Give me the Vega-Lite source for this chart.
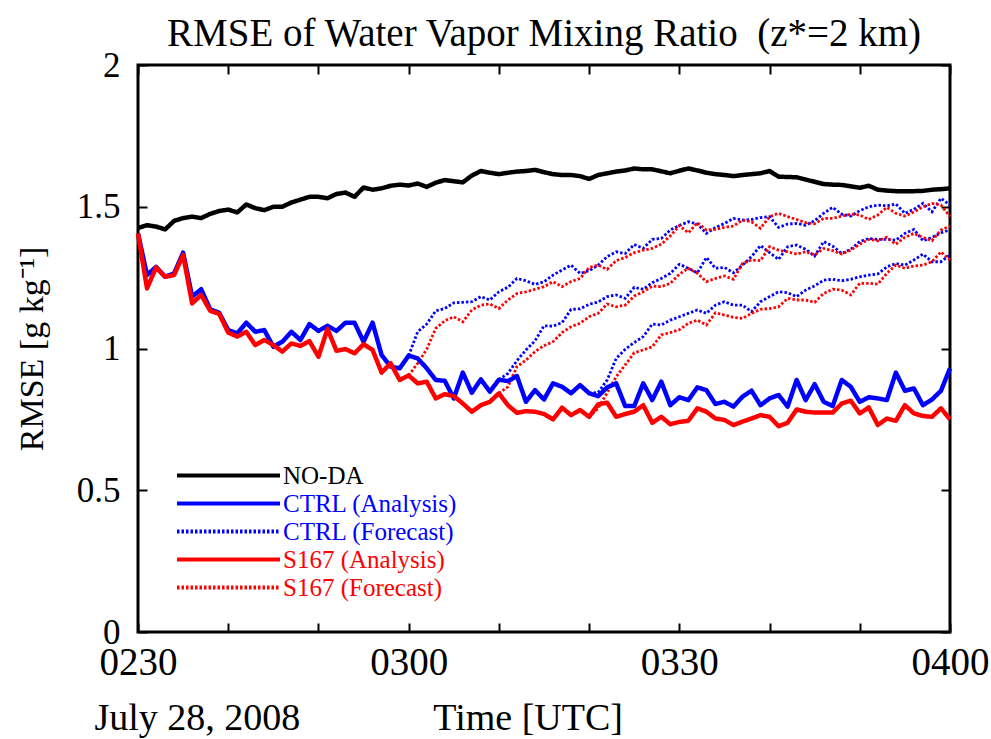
{
"$schema": "https://vega.github.io/schema/vega-lite/v6.json",
"width": 812, "height": 567,
"autosize": {"type": "none"},
"padding": {"left": 138, "top": 65, "right": 41, "bottom": 107},
"background": "white",
"title": {"text": "RMSE of Water Vapor Mixing Ratio\u00a0\u00a0(z*=2 km)", "font": "Liberation Serif", "fontSize": 39, "fontWeight": "normal", "color": "black", "offset": -6, "anchor": "middle"},
"config": {"view": {"stroke": "black", "strokeWidth": 3}, "font": "Liberation Serif"},
"resolve": {"axis": {"x": "independent", "y": "independent"}},
"data": {"values": [
{"t":0,"n":1.425,"ca":1.406,"sa":1.406},
{"t":1,"n":1.435,"ca":1.259,"sa":1.212},
{"t":2,"n":1.43,"ca":1.288,"sa":1.286},
{"t":3,"n":1.42,"ca":1.253,"sa":1.253},
{"t":4,"n":1.45,"ca":1.265,"sa":1.259},
{"t":5,"n":1.46,"ca":1.338,"sa":1.33},
{"t":6,"n":1.465,"ca":1.183,"sa":1.159},
{"t":7,"n":1.46,"ca":1.209,"sa":1.189},
{"t":8,"n":1.475,"ca":1.138,"sa":1.133},
{"t":9,"n":1.485,"ca":1.126,"sa":1.122},
{"t":10,"n":1.49,"ca":1.065,"sa":1.056},
{"t":11,"n":1.48,"ca":1.053,"sa":1.042},
{"t":12,"n":1.508,"ca":1.091,"sa":1.059},
{"t":13,"n":1.495,"ca":1.059,"sa":1.012},
{"t":14,"n":1.488,"ca":1.065,"sa":1.03},
{"t":15,"n":1.5,"ca":1.006,"sa":1.012},
{"t":16,"n":1.5,"ca":1.024,"sa":0.989},
{"t":17,"n":1.515,"ca":1.059,"sa":1.018},
{"t":18,"n":1.525,"ca":1.03,"sa":1.009},
{"t":19,"n":1.535,"ca":1.086,"sa":1.026},
{"t":20,"n":1.535,"ca":1.062,"sa":0.971},
{"t":21,"n":1.53,"ca":1.08,"sa":1.069},
{"t":22,"n":1.545,"ca":1.062,"sa":0.992},
{"t":23,"n":1.55,"ca":1.091,"sa":0.998},
{"t":24,"n":1.535,"ca":1.091,"sa":0.983},
{"t":25,"n":1.568,"ca":1.024,"sa":1.015},
{"t":26,"n":1.56,"ca":1.091,"sa":0.995},
{"t":27,"n":1.565,"ca":0.977,"sa":0.915},
{"t":28,"n":1.574,"ca":0.936,"sa":0.948},
{"t":29,"n":1.578,"ca":0.93,"sa":0.889},
{"t":30,"n":1.575,"ca":0.975,"sa":0.905,"cf1":0.975,"sf1":0.905},
{"t":31,"n":1.582,"ca":0.965,"sa":0.877,"cf1":1.059,"sf1":0.948},
{"t":32,"n":1.57,"ca":0.93,"sa":0.883,"cf1":1.086,"sf1":0.997},
{"t":33,"n":1.585,"ca":0.889,"sa":0.824,"cf1":1.133,"sf1":1.071},
{"t":34,"n":1.594,"ca":0.886,"sa":0.839,"cf1":1.141,"sf1":1.098},
{"t":35,"n":1.59,"ca":0.824,"sa":0.832,"cf1":1.161,"sf1":1.112},
{"t":36,"n":1.586,"ca":0.915,"sa":0.806,"cf1":1.163,"sf1":1.094},
{"t":37,"n":1.61,"ca":0.844,"sa":0.777,"cf1":1.165,"sf1":1.136},
{"t":38,"n":1.626,"ca":0.891,"sa":0.8,"cf1":1.183,"sf1":1.153},
{"t":39,"n":1.62,"ca":0.848,"sa":0.812,"cf1":1.171,"sf1":1.157},
{"t":40,"n":1.615,"ca":0.89,"sa":0.842,"cf1":1.2,"sf1":1.141,"cf2":0.89,"sf2":0.842},
{"t":41,"n":1.62,"ca":0.885,"sa":0.8,"cf1":1.216,"sf1":1.171,"cf2":0.912,"sf2":0.865},
{"t":42,"n":1.624,"ca":0.903,"sa":0.773,"cf1":1.247,"sf1":1.194,"cf2":0.957,"sf2":0.936},
{"t":43,"n":1.626,"ca":0.812,"sa":0.779,"cf1":1.239,"sf1":1.2,"cf2":0.995,"sf2":0.959},
{"t":44,"n":1.63,"ca":0.853,"sa":0.777,"cf1":1.226,"sf1":1.209,"cf2":1.027,"sf2":0.989},
{"t":45,"n":1.622,"ca":0.82,"sa":0.769,"cf1":1.235,"sf1":1.218,"cf2":1.08,"sf2":1.01},
{"t":46,"n":1.615,"ca":0.877,"sa":0.75,"cf1":1.259,"sf1":1.236,"cf2":1.079,"sf2":1.024},
{"t":47,"n":1.612,"ca":0.865,"sa":0.791,"cf1":1.277,"sf1":1.218,"cf2":1.091,"sf2":1.056},
{"t":48,"n":1.612,"ca":0.842,"sa":0.765,"cf1":1.294,"sf1":1.236,"cf2":1.138,"sf2":1.077},
{"t":49,"n":1.608,"ca":0.871,"sa":0.783,"cf1":1.265,"sf1":1.247,"cf2":1.14,"sf2":1.089},
{"t":50,"n":1.598,"ca":0.842,"sa":0.759,"cf1":1.274,"sf1":1.286,"cf2":1.156,"sf2":1.112,"cf3":0.842,"sf3":0.759},
{"t":51,"n":1.612,"ca":0.832,"sa":0.803,"cf1":1.294,"sf1":1.294,"cf2":1.164,"sf2":1.124,"cf3":0.845,"sf3":0.789},
{"t":52,"n":1.618,"ca":0.863,"sa":0.809,"cf1":1.324,"sf1":1.279,"cf2":1.183,"sf2":1.157,"cf3":0.889,"sf3":0.844},
{"t":53,"n":1.624,"ca":0.877,"sa":0.759,"cf1":1.341,"sf1":1.31,"cf2":1.189,"sf2":1.147,"cf3":0.965,"sf3":0.9},
{"t":54,"n":1.628,"ca":0.797,"sa":0.769,"cf1":1.335,"sf1":1.321,"cf2":1.177,"sf2":1.153,"cf3":0.997,"sf3":0.942},
{"t":55,"n":1.635,"ca":0.797,"sa":0.777,"cf1":1.367,"sf1":1.338,"cf2":1.216,"sf2":1.185,"cf3":1.021,"sf3":0.985},
{"t":56,"n":1.632,"ca":0.877,"sa":0.8,"cf1":1.353,"sf1":1.347,"cf2":1.209,"sf2":1.2,"cf3":1.042,"sf3":0.995},
{"t":57,"n":1.632,"ca":0.818,"sa":0.738,"cf1":1.385,"sf1":1.353,"cf2":1.232,"sf2":1.22,"cf3":1.086,"sf3":1.006},
{"t":58,"n":1.625,"ca":0.883,"sa":0.759,"cf1":1.388,"sf1":1.368,"cf2":1.247,"sf2":1.218,"cf3":1.083,"sf3":1.048},
{"t":59,"n":1.618,"ca":0.8,"sa":0.733,"cf1":1.418,"sf1":1.397,"cf2":1.265,"sf2":1.23,"cf3":1.1,"sf3":1.056},
{"t":60,"n":1.627,"ca":0.828,"sa":0.741,"cf1":1.434,"sf1":1.433,"cf2":1.297,"sf2":1.262,"cf3":1.112,"sf3":1.066},
{"t":61,"n":1.635,"ca":0.818,"sa":0.745,"cf1":1.447,"sf1":1.408,"cf2":1.283,"sf2":1.283,"cf3":1.124,"sf3":1.089},
{"t":62,"n":1.628,"ca":0.863,"sa":0.789,"cf1":1.439,"sf1":1.444,"cf2":1.267,"sf2":1.265,"cf3":1.136,"sf3":1.1},
{"t":63,"n":1.62,"ca":0.853,"sa":0.777,"cf1":1.406,"sf1":1.418,"cf2":1.321,"sf2":1.236,"cf3":1.124,"sf3":1.083},
{"t":64,"n":1.615,"ca":0.804,"sa":0.753,"cf1":1.427,"sf1":1.42,"cf2":1.283,"sf2":1.247,"cf3":1.153,"sf3":1.126},
{"t":65,"n":1.612,"ca":0.812,"sa":0.748,"cf1":1.441,"sf1":1.427,"cf2":1.286,"sf2":1.256,"cf3":1.165,"sf3":1.118},
{"t":66,"n":1.608,"ca":0.795,"sa":0.73,"cf1":1.459,"sf1":1.432,"cf2":1.267,"sf2":1.244,"cf3":1.153,"sf3":1.11},
{"t":67,"n":1.612,"ca":0.83,"sa":0.742,"cf1":1.453,"sf1":1.453,"cf2":1.294,"sf2":1.3,"cf3":1.153,"sf3":1.106},
{"t":68,"n":1.615,"ca":0.851,"sa":0.753,"cf1":1.455,"sf1":1.447,"cf2":1.324,"sf2":1.312,"cf3":1.13,"sf3":1.124},
{"t":69,"n":1.618,"ca":0.8,"sa":0.765,"cf1":1.462,"sf1":1.424,"cf2":1.363,"sf2":1.31,"cf3":1.165,"sf3":1.138},
{"t":70,"n":1.626,"ca":0.824,"sa":0.759,"cf1":1.465,"sf1":1.465,"cf2":1.338,"sf2":1.359,"cf3":1.183,"sf3":1.141},
{"t":71,"n":1.606,"ca":0.836,"sa":0.726,"cf1":1.427,"sf1":1.477,"cf2":1.314,"sf2":1.347,"cf3":1.2,"sf3":1.147},
{"t":72,"n":1.605,"ca":0.795,"sa":0.738,"cf1":1.439,"sf1":1.465,"cf2":1.359,"sf2":1.341,"cf3":1.197,"sf3":1.177},
{"t":73,"n":1.604,"ca":0.889,"sa":0.785,"cf1":1.441,"sf1":1.455,"cf2":1.365,"sf2":1.333,"cf3":1.183,"sf3":1.171},
{"t":74,"n":1.596,"ca":0.818,"sa":0.777,"cf1":1.435,"sf1":1.444,"cf2":1.35,"sf2":1.341,"cf3":1.206,"sf3":1.171},
{"t":75,"n":1.588,"ca":0.874,"sa":0.774,"cf1":1.451,"sf1":1.44,"cf2":1.326,"sf2":1.33,"cf3":1.221,"sf3":1.163},
{"t":76,"n":1.58,"ca":0.812,"sa":0.774,"cf1":1.477,"sf1":1.459,"cf2":1.377,"sf2":1.353,"cf3":1.241,"sf3":1.194},
{"t":77,"n":1.578,"ca":0.797,"sa":0.774,"cf1":1.498,"sf1":1.459,"cf2":1.361,"sf2":1.345,"cf3":1.244,"sf3":1.209},
{"t":78,"n":1.577,"ca":0.889,"sa":0.806,"cf1":1.474,"sf1":1.467,"cf2":1.335,"sf2":1.333,"cf3":1.239,"sf3":1.206},
{"t":79,"n":1.572,"ca":0.865,"sa":0.816,"cf1":1.467,"sf1":1.474,"cf2":1.35,"sf2":1.347,"cf3":1.244,"sf3":1.189},
{"t":80,"n":1.567,"ca":0.812,"sa":0.771,"cf1":1.486,"sf1":1.471,"cf2":1.377,"sf2":1.368,"cf3":1.253,"sf3":1.23},
{"t":81,"n":1.574,"ca":0.828,"sa":0.792,"cf1":1.5,"sf1":1.455,"cf2":1.388,"sf2":1.385,"cf3":1.259,"sf3":1.23},
{"t":82,"n":1.56,"ca":0.824,"sa":0.73,"cf1":1.506,"sf1":1.471,"cf2":1.385,"sf2":1.38,"cf3":1.263,"sf3":1.227},
{"t":83,"n":1.557,"ca":0.818,"sa":0.753,"cf1":1.503,"sf1":1.498,"cf2":1.385,"sf2":1.392,"cf3":1.288,"sf3":1.265},
{"t":84,"n":1.555,"ca":0.915,"sa":0.745,"cf1":1.51,"sf1":1.477,"cf2":1.382,"sf2":1.368,"cf3":1.3,"sf3":1.294},
{"t":85,"n":1.555,"ca":0.851,"sa":0.8,"cf1":1.477,"sf1":1.467,"cf2":1.406,"sf2":1.392,"cf3":1.294,"sf3":1.283},
{"t":86,"n":1.555,"ca":0.859,"sa":0.771,"cf1":1.491,"sf1":1.482,"cf2":1.42,"sf2":1.406,"cf3":1.312,"sf3":1.291},
{"t":87,"n":1.556,"ca":0.8,"sa":0.762,"cf1":1.512,"sf1":1.5,"cf2":1.38,"sf2":1.392,"cf3":1.333,"sf3":1.294},
{"t":88,"n":1.56,"ca":0.82,"sa":0.759,"cf1":1.482,"sf1":1.512,"cf2":1.392,"sf2":1.38,"cf3":1.306,"sf3":1.306},
{"t":89,"n":1.562,"ca":0.851,"sa":0.789,"cf1":1.53,"sf1":1.506,"cf2":1.408,"sf2":1.418,"cf3":1.306,"sf3":1.341},
{"t":90,"n":1.565,"ca":0.93,"sa":0.75,"cf1":1.506,"sf1":1.465,"cf2":1.418,"sf2":1.432,"cf3":1.33,"sf3":1.312}
]},
"layer": [
{"mark": {"type": "line", "strokeWidth": 4.5, "strokeJoin": "round", "strokeCap": "butt"},
 "encoding": {
  "x": {"field": "t", "type": "quantitative", "scale": {"domain": [0, 90], "nice": false}, "axis": {"orient": "top", "values": [0,10,20,30,40,50,60,70,80,90], "labels": false, "domain": false, "grid": false, "title": null, "tickSize": -9, "tickWidth": 2, "tickColor": "black"}},
  "y": {"field": "n", "type": "quantitative", "scale": {"domain": [0, 2], "nice": false}, "axis": {"orient": "right", "values": [0,0.5,1,1.5,2], "labels": false, "domain": false, "grid": false, "title": null, "tickSize": -9, "tickWidth": 2, "tickColor": "black"}},
  "color": {"datum": "NO-DA", "type": "nominal",
   "scale": {"domain": ["NO-DA", "CTRL (Analysis)", "CTRL (Forecast)", "S167 (Analysis)", "S167 (Forecast)"], "range": ["#000000", "#0000ff", "#0000ff", "#ff0000", "#ff0000"]},
   "legend": {"orient": "none", "legendX": 37, "legendY": 398, "title": null, "symbolType": "stroke", "symbolSize": 10609, "symbolStrokeWidth": 4, "labelFont": "Liberation Serif", "labelFontSize": 25, "labelOffset": 1, "rowPadding": 2, "clipHeight": 25, "padding": 0, "labelLimit": 400,
    "encode": {"labels": {"update": {"fill": {"signal": "indexof(datum.value, 'CTRL') >= 0 ? '#0000ff' : (indexof(datum.value, 'S167') >= 0 ? '#ff0000' : '#000000')"}}}}}},
  "strokeDash": {"datum": "NO-DA", "type": "nominal",
   "scale": {"domain": ["NO-DA", "CTRL (Analysis)", "CTRL (Forecast)", "S167 (Analysis)", "S167 (Forecast)"], "range": [[1,0], [1,0], [2.5,2], [1,0], [2.5,2]]},
   "legend": {"orient": "none", "legendX": 37, "legendY": 398, "title": null, "symbolType": "stroke", "symbolSize": 10609, "symbolStrokeWidth": 4, "labelFont": "Liberation Serif", "labelFontSize": 25, "labelOffset": 1, "rowPadding": 2, "clipHeight": 25, "padding": 0, "labelLimit": 400,
    "encode": {"labels": {"update": {"fill": {"signal": "indexof(datum.value, 'CTRL') >= 0 ? '#0000ff' : (indexof(datum.value, 'S167') >= 0 ? '#ff0000' : '#000000')"}}}}}}
 }},
{"mark": {"type": "line", "strokeWidth": 2.8, "strokeCap": "butt"},
 "encoding": {"x": {"field": "t", "type": "quantitative", "axis": null}, "y": {"field": "cf1", "type": "quantitative", "axis": null}, "color": {"datum": "CTRL (Forecast)", "type": "nominal"}, "strokeDash": {"datum": "CTRL (Forecast)", "type": "nominal"}}},
{"mark": {"type": "line", "strokeWidth": 2.8, "strokeCap": "butt"},
 "encoding": {"x": {"field": "t", "type": "quantitative", "axis": null}, "y": {"field": "cf2", "type": "quantitative", "axis": null}, "color": {"datum": "CTRL (Forecast)", "type": "nominal"}, "strokeDash": {"datum": "CTRL (Forecast)", "type": "nominal"}}},
{"mark": {"type": "line", "strokeWidth": 2.8, "strokeCap": "butt"},
 "encoding": {"x": {"field": "t", "type": "quantitative", "axis": null}, "y": {"field": "cf3", "type": "quantitative", "axis": null}, "color": {"datum": "CTRL (Forecast)", "type": "nominal"}, "strokeDash": {"datum": "CTRL (Forecast)", "type": "nominal"}}},
{"mark": {"type": "line", "strokeWidth": 2.8, "strokeCap": "butt"},
 "encoding": {"x": {"field": "t", "type": "quantitative", "axis": null}, "y": {"field": "sf1", "type": "quantitative", "axis": null}, "color": {"datum": "S167 (Forecast)", "type": "nominal"}, "strokeDash": {"datum": "S167 (Forecast)", "type": "nominal"}}},
{"mark": {"type": "line", "strokeWidth": 2.8, "strokeCap": "butt"},
 "encoding": {"x": {"field": "t", "type": "quantitative", "axis": null}, "y": {"field": "sf2", "type": "quantitative", "axis": null}, "color": {"datum": "S167 (Forecast)", "type": "nominal"}, "strokeDash": {"datum": "S167 (Forecast)", "type": "nominal"}}},
{"mark": {"type": "line", "strokeWidth": 2.8, "strokeCap": "butt"},
 "encoding": {"x": {"field": "t", "type": "quantitative", "axis": null}, "y": {"field": "sf3", "type": "quantitative", "axis": null}, "color": {"datum": "S167 (Forecast)", "type": "nominal"}, "strokeDash": {"datum": "S167 (Forecast)", "type": "nominal"}}},
{"mark": {"type": "line", "strokeWidth": 4.5, "strokeJoin": "round", "strokeCap": "butt"},
 "encoding": {
  "x": {"field": "t", "type": "quantitative", "axis": {"orient": "bottom", "values": [0,10,20,30,40,50,60,70,80,90], "labelExpr": "datum.value == 0 ? '0230' : datum.value == 30 ? '0300' : datum.value == 60 ? '0330' : datum.value == 90 ? '0400' : ''", "labelFont": "Liberation Serif", "labelFontSize": 39, "labelColor": "black", "labelPadding": 20, "labelFlush": false, "labelOverlap": false, "domain": false, "grid": false, "tickSize": -9, "tickWidth": 2, "tickColor": "black",
   "title": "July 28, 2008\u00a0\u00a0\u00a0\u00a0\u00a0\u00a0\u00a0\u00a0\u00a0\u00a0\u00a0\u00a0\u00a0\u00a0Time [UTC]", "titleFont": "Liberation Serif", "titleFontSize": 38, "titleFontWeight": "normal", "titleColor": "black", "titleAnchor": "start", "titleAlign": "left", "titleX": -44, "titleY": 97, "titleBaseline": "alphabetic"}},
  "y": {"field": "ca", "type": "quantitative", "axis": {"orient": "left", "values": [0,0.5,1,1.5,2], "format": ".1~f", "labelFont": "Liberation Serif", "labelFontSize": 35, "labelColor": "black", "labelPadding": 27, "labelFlush": false, "labelOverlap": false, "domain": false, "grid": false, "tickSize": -9, "tickWidth": 2, "tickColor": "black",
   "title": "RMSE [g kg\u207b\u00b9]", "titleFont": "Liberation Serif", "titleFontSize": 34, "titleFontWeight": "normal", "titleColor": "black", "titlePadding": 27}},
  "color": {"datum": "CTRL (Analysis)", "type": "nominal"},
  "strokeDash": {"datum": "CTRL (Analysis)", "type": "nominal"}
 }},
{"mark": {"type": "line", "strokeWidth": 4.5, "strokeJoin": "round", "strokeCap": "butt"},
 "encoding": {"x": {"field": "t", "type": "quantitative", "axis": null}, "y": {"field": "sa", "type": "quantitative", "axis": null}, "color": {"datum": "S167 (Analysis)", "type": "nominal"}, "strokeDash": {"datum": "S167 (Analysis)", "type": "nominal"}}}
]
}
